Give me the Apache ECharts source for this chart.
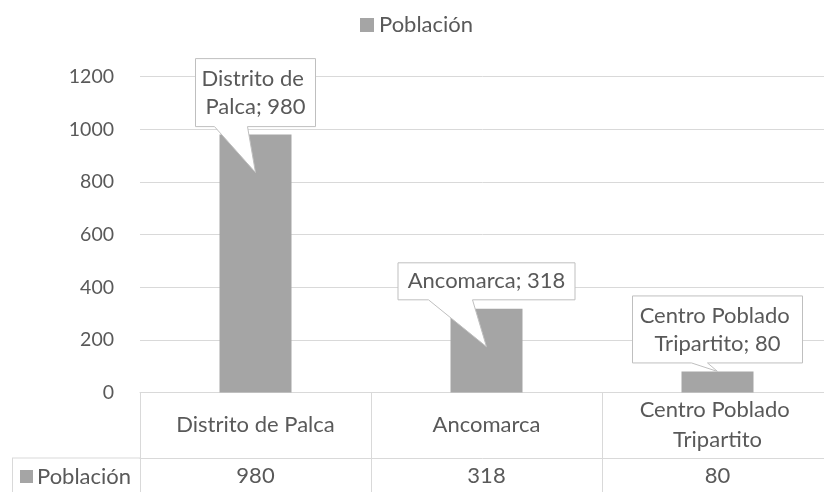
<!DOCTYPE html>
<html>
<head>
<meta charset="utf-8">
<script src="https://cdn.jsdelivr.net/npm/echarts@6/dist/echarts.min.js"></script>
<style>
  html, body { margin: 0; padding: 0; background: #fff; }
  #chart { width: 824px; height: 492px; }
</style>
</head>
<body>
<div id="chart"></div>
<script>
// datos
const seriesName = 'Población';
const categorias = ['Distrito de Palca', 'Ancomarca', 'Centro Poblado Tripartito'];
const poblacion = [980, 318, 80];
const yTicks = [0, 200, 400, 600, 800, 1000, 1200];

// globos de etiqueta (posicion relativa a la parte superior de la barra)
const globos = [
  { dy: -42, w: 120, h: 68, tw: 130, wl: -41, wr: -8, tip: 38 },
  { dy: -27.5, w: 177, h: 37, tw: 180, wl: -58, wr: -14, tip: 38 },
  { dy: -42, w: 170, h: 67, tw: 168, wl: -26, wr: -10, tip: 0 }
];

const FONT = 'Lato';
const FS = 22;
const TXT = '#595959';
const LINEA = '#d9d9d9';
const GRIS = '#a5a5a5';

const chart = echarts.init(document.getElementById('chart'));

const option = {
  animation: false,
  textStyle: { fontFamily: FONT, color: TXT },
  legend: {
    data: [seriesName],
    top: 10,
    left: 360,
    padding: 0,
    icon: 'rect',
    itemWidth: 14,
    itemHeight: 14,
    itemGap: 4,
    textStyle: { fontFamily: FONT, fontSize: FS, color: TXT, lineHeight: 30 }
  },
  grid: { left: 140, width: 693, top: 76.7, bottom: 99.5, outerBoundsMode: 'none', containLabel: false },
  xAxis: [
    {
      type: 'category',
      data: categorias,
      axisLine: { lineStyle: { color: LINEA } },
      axisTick: { show: true, length: 100, interval: 0, lineStyle: { color: LINEA } },
      axisLabel: {
        interval: 0,
        margin: 32.5,
        verticalAlign: 'middle',
        fontFamily: FONT,
        fontSize: FS,
        color: TXT,
        width: 190,
        overflow: 'break',
        lineHeight: 30
      }
    },
    {
      type: 'category',
      data: categorias,
      position: 'bottom',
      offset: 65.5,
      axisLine: { lineStyle: { color: LINEA } },
      axisTick: { show: false },
      axisLabel: {
        interval: 0,
        margin: 18,
        verticalAlign: 'middle',
        fontFamily: FONT,
        fontSize: FS,
        color: TXT,
        formatter: (v, i) => String(poblacion[i])
      }
    }
  ],
  yAxis: {
    type: 'value',
    min: yTicks[0],
    max: yTicks[yTicks.length - 1],
    interval: 200,
    axisLine: { show: false },
    axisTick: { show: false },
    splitLine: { lineStyle: { color: LINEA } },
    axisLabel: { margin: 26, fontFamily: FONT, fontSize: 19.5, color: TXT, formatter: v => String(v) }
  },
  graphic: [
    { type: 'line', shape: { x1: 12, y1: 458, x2: 140, y2: 458 }, style: { stroke: LINEA, lineWidth: 1 } },
    { type: 'line', shape: { x1: 12.5, y1: 458, x2: 12.5, y2: 492 }, style: { stroke: LINEA, lineWidth: 1 } },
    { type: 'rect', shape: { x: 20, y: 470, width: 13, height: 13 }, style: { fill: GRIS } },
    { type: 'text', x: 37, y: 476.5, style: { text: seriesName, fontFamily: FONT, fontSize: FS, fill: TXT, verticalAlign: 'middle' } }
  ],
  series: [
    {
      name: seriesName,
      type: 'bar',
      barWidth: 72,
      itemStyle: { color: GRIS },
      data: poblacion
    },
    {
      type: 'custom',
      z: 5,
      silent: true,
      data: poblacion.map((v, i) => [i, v]),
      renderItem: function (params, api) {
        const g = globos[params.dataIndex];
        const p = api.coord([api.value(0), api.value(1)]);
        const cx = p[0], cy = p[1] + g.dy;
        const x0 = cx - g.w / 2, x1 = cx + g.w / 2;
        const y0 = cy - g.h / 2, y1 = cy + g.h / 2;
        const pts = [
          [x0, y0], [x1, y0], [x1, y1],
          [cx + g.wr, y1], [p[0], p[1] + g.tip], [cx + g.wl, y1],
          [x0, y1]
        ];
        const texto = categorias[params.dataIndex] + '; ' + poblacion[params.dataIndex];
        return {
          type: 'group',
          children: [
            {
              type: 'polygon',
              shape: { points: pts },
              style: { fill: '#fff', stroke: '#bfbfbf', lineWidth: 1 }
            },
            {
              type: 'text',
              x: cx,
              y: cy,
              style: {
                text: texto,
                fontFamily: FONT,
                fontSize: FS,
                fill: TXT,
                align: 'center',
                verticalAlign: 'middle',
                width: g.tw,
                overflow: 'break',
                lineHeight: 28
              }
            }
          ]
        };
      }
    }
  ]
};

chart.setOption(option);
</script>
</body>
</html>
